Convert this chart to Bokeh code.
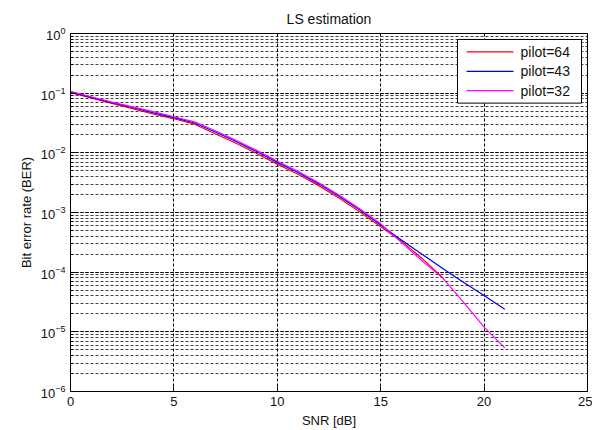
from bokeh.plotting import figure
from bokeh.models import FixedTicker
from bokeh.core.properties import value
from bokeh.embed import file_html
from bokeh.resources import INLINE

# SNR [dB] values for each curve
snr_64 = list(range(0, 19))
snr_43 = list(range(0, 22))
snr_32 = list(range(0, 22))

# Bit error rate
ber_64 = [0.102, 0.0832, 0.0676, 0.0550, 0.0447, 0.0372, 0.0302, 0.0209, 0.0145,
          0.00977, 0.00646, 0.00437, 0.00282, 0.00174, 0.00102, 5.75e-4, 3.31e-4,
          1.70e-4, 8.1e-5]
ber_43 = [0.105, 0.0851, 0.0692, 0.0575, 0.0468, 0.0389, 0.0316, 0.0224, 0.0155,
          0.0105, 0.00692, 0.00468, 0.00302, 0.00186, 0.00110, 6.17e-4, 3.47e-4,
          2.0e-4, 1.15e-4, 6.76e-5, 4.07e-5, 2.4e-5]
ber_32 = [0.107, 0.0871, 0.0708, 0.0589, 0.0490, 0.0403, 0.0331, 0.0234, 0.0162,
          0.0110, 0.00724, 0.0049, 0.00316, 0.00195, 0.00115, 6.46e-4, 3.16e-4,
          1.55e-4, 7.94e-5, 3.16e-5, 1.2e-5, 5.37e-6]

labels = ["pilot=64", "pilot=43", "pilot=32"]
colors = ["#ff0000", "#0000ff", "#ff00ff"]
x_ticks = [0, 5, 10, 15, 20, 25]
X_MIN, X_MAX = 0, 25
Y_MIN, Y_MAX = 1e-6, 1

FONT = "Liberation Sans"

# frame geometry (pixels) used to place the legend box
FR_L, FR_R, FR_T, FR_B = 70, 587, 33, 393
W, H = 592, 430

p = figure(width=W, height=H, y_axis_type="log",
           x_range=(X_MIN, X_MAX), y_range=(Y_MIN, Y_MAX),
           output_backend="svg", toolbar_location=None,
           title="LS estimation",
           min_border_left=FR_L, min_border_right=W - FR_R,
           min_border_top=FR_T, min_border_bottom=H - FR_B)

p.background_fill_color = "white"
p.border_fill_color = "white"
p.outline_line_color = "black"
p.outline_line_width = 1

p.title.align = "center"
p.title.text_font = FONT
p.title.text_font_style = "normal"
p.title.text_font_size = "14px"
p.title.text_color = "#111111"
p.title.standoff = 13

for s, b, c in zip([snr_64, snr_43, snr_32], [ber_64, ber_43, ber_32], colors):
    p.line(s, b, line_color=c, line_width=1.2)

# axes
p.xaxis.ticker = FixedTicker(ticks=x_ticks)
p.xaxis.axis_label = "SNR [dB]"
p.yaxis.axis_label = "Bit error rate (BER)"
for ax in (p.xaxis, p.yaxis):
    ax.axis_label_text_font = FONT
    ax.axis_label_text_font_style = "normal"
    ax.axis_label_text_font_size = "13px"
    ax.axis_label_text_color = "#111111"
    ax.major_label_text_font = FONT
    ax.major_label_text_font_size = "13px"
    ax.major_label_text_color = "#111111"
    ax.axis_line_color = "black"
    ax.major_tick_line_color = "black"
    ax.major_tick_in = 5
    ax.major_tick_out = 0
    ax.axis_label_standoff = 4
    ax.major_label_standoff = 5
p.xaxis.minor_tick_line_color = None
p.yaxis.minor_tick_line_color = "black"
p.yaxis.minor_tick_in = 3
p.yaxis.minor_tick_out = 0

# grid
p.xgrid.ticker = FixedTicker(ticks=x_ticks)
p.xgrid.grid_line_color = "black"
p.xgrid.grid_line_dash = "3 2"
p.xgrid.grid_line_width = 1
p.ygrid.grid_line_color = "black"
p.ygrid.grid_line_dash = "3 2"
p.ygrid.grid_line_width = 1
p.ygrid.minor_grid_line_color = "black"
p.ygrid.minor_grid_line_dash = "3 2"
p.ygrid.minor_grid_line_alpha = 0.75


# legend (drawn by hand so the sample lines keep their colours)
def px_to_x(px):
    return X_MIN + (px - FR_L) / (FR_R - FR_L) * (X_MAX - X_MIN)


def py_to_y(py):
    import math
    lo, hi = math.log10(Y_MIN), math.log10(Y_MAX)
    return 10 ** (hi - (py - FR_T) / (FR_B - FR_T) * (hi - lo))


box_l, box_r, box_t, box_b = 457, 581, 39, 103
row_py = [51.5, 71, 90.5]
p.quad(left=[px_to_x(box_l)], right=[px_to_x(box_r)],
       top=[py_to_y(box_t)], bottom=[py_to_y(box_b)],
       fill_color="white", line_color="black", line_width=1)
p.segment(x0=[px_to_x(466)] * 3, x1=[px_to_x(513)] * 3,
          y0=[py_to_y(v) for v in row_py], y1=[py_to_y(v) for v in row_py],
          line_color=colors, line_width=1.2)
p.text(x=[px_to_x(520)] * 3, y=[py_to_y(v) for v in row_py], text=labels,
       text_font=value(FONT), text_font_size="14px", text_color="#111111",
       text_baseline="middle", text_align="left")

open("out.html", "w").write(file_html(p, INLINE))
